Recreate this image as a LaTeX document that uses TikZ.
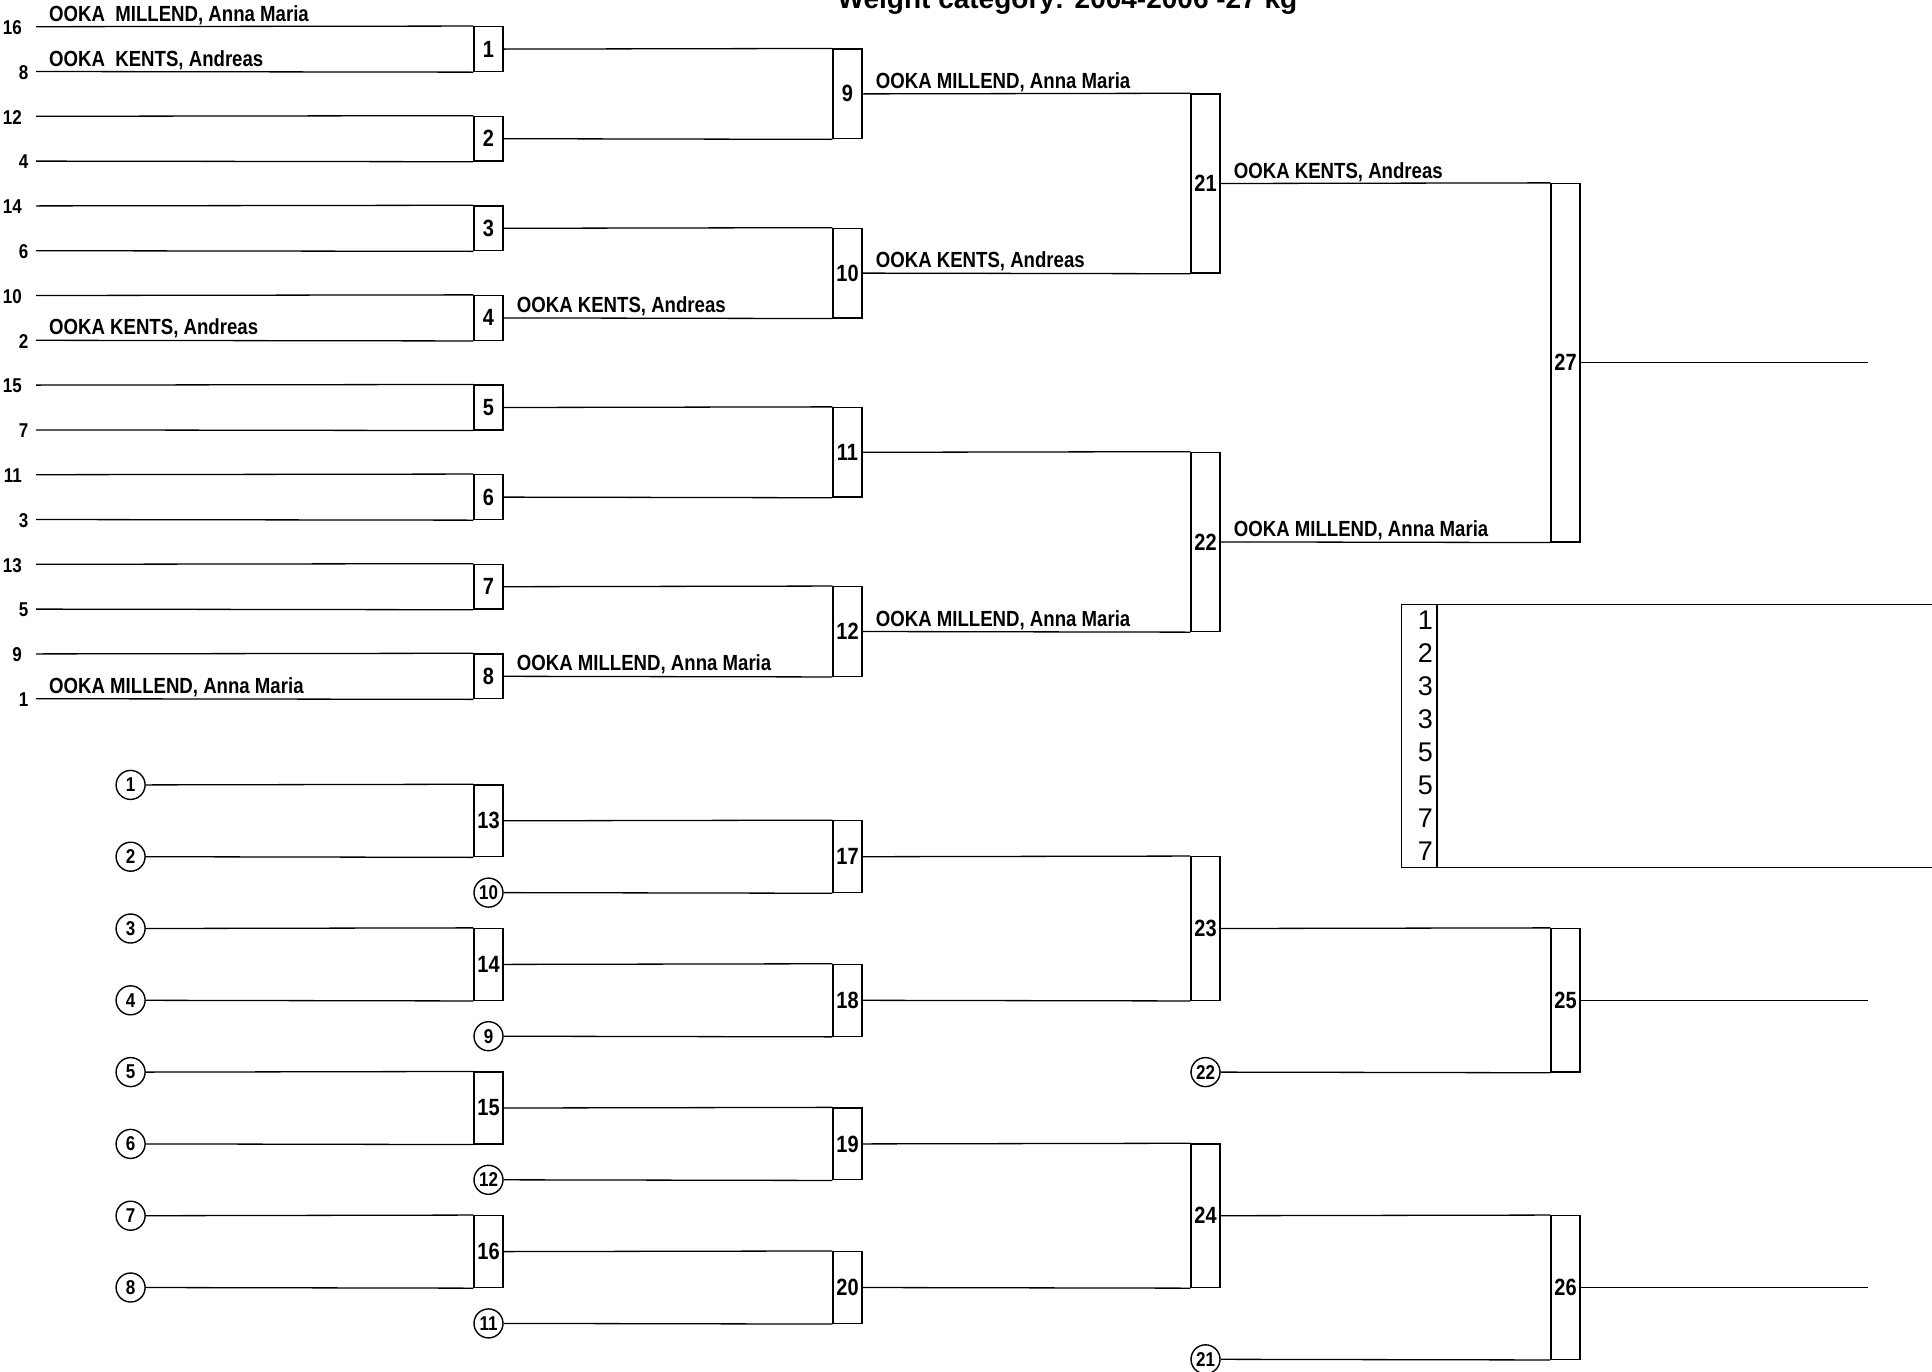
\documentclass[tikz,border=0pt]{standalone}
\usepackage{fontspec}
\setmainfont{Liberation Sans}
\newfontfamily\condfont[FakeStretch=0.85]{Liberation Sans}
\tikzset{
 ln/.style={line width=1.3pt},
 mbox/.style={draw, line width=1.3pt, rectangle, minimum width=29pt, inner sep=0pt, font=\condfont\bfseries\fontsize{23.5}{23.5}\selectfont},
 circ/.style={draw, circle, line width=1.4pt, minimum size=29pt, inner sep=0pt, font=\condfont\bfseries\fontsize{20}{20}\selectfont},
 seed/.style={anchor=east, inner sep=0pt, font=\condfont\bfseries\fontsize{20}{20}\selectfont},
 pname/.style={anchor=base west, inner sep=0pt, font=\condfont\bfseries\fontsize{21.9}{22}\selectfont},
 res/.style={anchor=east, inner sep=0pt, font=\fontsize{27}{27}\selectfont},
}
\begin{document}
\begin{tikzpicture}[x=1pt,y=-1pt]
\useasboundingbox (0,0) rectangle (1932,1371);
% title
\node[anchor=base, inner sep=0pt, font=\bfseries\fontsize{28}{28}\selectfont] (title) at (1067.5,8) {Weight category: 2004-2006 -27 kg};
% ---------- main bracket: seeds ----------
\foreach \lab/\y/\nm in {16/26.7/r16, 12/116.3/r12, 14/205.9/r14, 10/295.5/r10, 15/385.1/r15, 11/474.7/r11, 13/564.3/r13, 9/653.9/r9}{
  \node[seed] (s\lab) at (22,\y+1) {\lab};
  \coordinate (\nm) at (36,\y);
}
\foreach \lab/\y/\nm in {8/71.5/r8, 4/161.1/r4, 6/250.7/r6, 2/340.3/r2, 7/429.9/r7, 3/519.5/r3, 5/609.1/r5, 1/698.7/r1}{
  \node[seed] (s\lab) at (28.5,\y+1) {\lab};
  \coordinate (\nm) at (36,\y);
}
% round 1 boxes
\node[mbox, minimum height=44.8pt] (m1) at (488.5,49.1) {1};
\node[mbox, minimum height=44.8pt] (m2) at (488.5,138.7) {2};
\node[mbox, minimum height=44.8pt] (m3) at (488.5,228.3) {3};
\node[mbox, minimum height=44.8pt] (m4) at (488.5,317.9) {4};
\node[mbox, minimum height=44.8pt] (m5) at (488.5,407.5) {5};
\node[mbox, minimum height=44.8pt] (m6) at (488.5,497.1) {6};
\node[mbox, minimum height=44.8pt] (m7) at (488.5,586.7) {7};
\node[mbox, minimum height=44.8pt] (m8) at (488.5,676.3) {8};
% round 2
\node[mbox, minimum height=89.6pt] (m9) at (847.5,93.9) {9};
\node[mbox, minimum height=89.6pt] (m10) at (847.5,273.1) {10};
\node[mbox, minimum height=89.6pt] (m11) at (847.5,452.3) {11};
\node[mbox, minimum height=89.6pt] (m12) at (847.5,631.5) {12};
% round 3
\node[mbox, minimum height=179.2pt] (m21) at (1205.5,183.5) {21};
\node[mbox, minimum height=179.2pt] (m22) at (1205.5,541.9) {22};
% final
\node[mbox, minimum height=358.4pt] (m27) at (1565.5,362.7) {27};
\coordinate (e27) at (1868,362.7);
% connectors main
\draw[ln] (r16) -- (m1.north west);  \draw[ln] (r8) -- (m1.south west);
\draw[ln] (r12) -- (m2.north west);  \draw[ln] (r4) -- (m2.south west);
\draw[ln] (r14) -- (m3.north west);  \draw[ln] (r6) -- (m3.south west);
\draw[ln] (r10) -- (m4.north west);  \draw[ln] (r2) -- (m4.south west);
\draw[ln] (r15) -- (m5.north west);  \draw[ln] (r7) -- (m5.south west);
\draw[ln] (r11) -- (m6.north west);  \draw[ln] (r3) -- (m6.south west);
\draw[ln] (r13) -- (m7.north west);  \draw[ln] (r5) -- (m7.south west);
\draw[ln] (r9) -- (m8.north west);   \draw[ln] (r1) -- (m8.south west);
\draw[ln] (m1.east) -- (m9.north west);  \draw[ln] (m2.east) -- (m9.south west);
\draw[ln] (m3.east) -- (m10.north west); \draw[ln] (m4.east) -- (m10.south west);
\draw[ln] (m5.east) -- (m11.north west); \draw[ln] (m6.east) -- (m11.south west);
\draw[ln] (m7.east) -- (m12.north west); \draw[ln] (m8.east) -- (m12.south west);
\draw[ln] (m9.east) -- (m21.north west); \draw[ln] (m10.east) -- (m21.south west);
\draw[ln] (m11.east) -- (m22.north west); \draw[ln] (m12.east) -- (m22.south west);
\draw[ln] (m21.east) -- (m27.north west); \draw[ln] (m22.east) -- (m27.south west);
\draw[ln] (m27.east) -- (e27);
% names
\node[pname] (n16) at (49,21.2) {OOKA~~MILLEND, Anna Maria};
\node[pname] (n8) at (49,66.0) {OOKA~~KENTS, Andreas};
\node[pname] (n2) at (49,334.8) {OOKA KENTS, Andreas};
\node[pname] (n1) at (49,693.2) {OOKA MILLEND, Anna Maria};
\node[pname] (w4) at ([xshift=13pt,yshift=5.5pt]m4.east) {OOKA KENTS, Andreas};
\node[pname] (w8) at ([xshift=13pt,yshift=5.5pt]m8.east) {OOKA MILLEND, Anna Maria};
\node[pname] (w9) at ([xshift=13pt,yshift=5.5pt]m9.east) {OOKA MILLEND, Anna Maria};
\node[pname] (w10) at ([xshift=13pt,yshift=5.5pt]m10.east) {OOKA KENTS, Andreas};
\node[pname] (w12) at ([xshift=13pt,yshift=5.5pt]m12.east) {OOKA MILLEND, Anna Maria};
\node[pname] (w21) at ([xshift=13pt,yshift=5.5pt]m21.east) {OOKA KENTS, Andreas};
\node[pname] (w22) at ([xshift=13pt,yshift=5.5pt]m22.east) {OOKA MILLEND, Anna Maria};
% ---------- results table ----------
\node[draw, line width=1.3pt, minimum width=539pt, minimum height=263pt, inner sep=0pt, anchor=north west] (restab) at (1401,604) {};
\coordinate (rt1) at (1437,604);
\coordinate (rt2) at (1437,867);
\draw[ln] (rt1) -- (rt2);
\foreach \v/\y/\i in {1/620.4/1, 2/653.3/2, 3/686.2/3, 3/719.1/4, 5/752.0/5, 5/784.9/6, 7/817.8/7, 7/850.7/8}{
  \node[res] (p\i) at (1433,\y) {\v};
}
% ---------- repechage ----------
\foreach \n/\y in {1/784.9, 2/856.7, 3/928.5, 4/1000.3, 5/1072.1, 6/1143.9, 7/1215.7, 8/1287.5}{
  \node[circ] (c\n) at (130.6,\y) {\n};
}
\node[circ] (c10) at (488.5,892.6) {10};
\node[circ] (c9) at (488.5,1036.2) {9};
\node[circ] (c12) at (488.5,1179.8) {12};
\node[circ] (c11) at (488.5,1323.4) {11};
\node[circ] (c22) at (1205.5,1072.1) {22};
\node[circ] (c21) at (1205.5,1359.3) {21};
\node[mbox, minimum height=71.8pt] (m13) at (488.5,820.8) {13};
\node[mbox, minimum height=71.8pt] (m14) at (488.5,964.4) {14};
\node[mbox, minimum height=71.8pt] (m15) at (488.5,1108.0) {15};
\node[mbox, minimum height=71.8pt] (m16) at (488.5,1251.6) {16};
\node[mbox, minimum height=71.8pt] (m17) at (847.5,856.7) {17};
\node[mbox, minimum height=71.8pt] (m18) at (847.5,1000.3) {18};
\node[mbox, minimum height=71.8pt] (m19) at (847.5,1143.9) {19};
\node[mbox, minimum height=71.8pt] (m20) at (847.5,1287.5) {20};
\node[mbox, minimum height=143.6pt] (m23) at (1205.5,928.5) {23};
\node[mbox, minimum height=143.6pt] (m24) at (1205.5,1215.7) {24};
\node[mbox, minimum height=143.6pt] (m25) at (1565.5,1000.3) {25};
\node[mbox, minimum height=143.6pt] (m26) at (1565.5,1287.5) {26};
\coordinate (e25) at (1868,1000.3);
\coordinate (e26) at (1868,1287.5);
\draw[ln] (c1.east) -- (m13.north west); \draw[ln] (c2.east) -- (m13.south west);
\draw[ln] (c3.east) -- (m14.north west); \draw[ln] (c4.east) -- (m14.south west);
\draw[ln] (c5.east) -- (m15.north west); \draw[ln] (c6.east) -- (m15.south west);
\draw[ln] (c7.east) -- (m16.north west); \draw[ln] (c8.east) -- (m16.south west);
\draw[ln] (m13.east) -- (m17.north west); \draw[ln] (c10.east) -- (m17.south west);
\draw[ln] (m14.east) -- (m18.north west); \draw[ln] (c9.east) -- (m18.south west);
\draw[ln] (m15.east) -- (m19.north west); \draw[ln] (c12.east) -- (m19.south west);
\draw[ln] (m16.east) -- (m20.north west); \draw[ln] (c11.east) -- (m20.south west);
\draw[ln] (m17.east) -- (m23.north west); \draw[ln] (m18.east) -- (m23.south west);
\draw[ln] (m19.east) -- (m24.north west); \draw[ln] (m20.east) -- (m24.south west);
\draw[ln] (m23.east) -- (m25.north west); \draw[ln] (c22.east) -- (m25.south west);
\draw[ln] (m24.east) -- (m26.north west); \draw[ln] (c21.east) -- (m26.south west);
\draw[ln] (m25.east) -- (e25);
\draw[ln] (m26.east) -- (e26);
\end{tikzpicture}
\end{document}
